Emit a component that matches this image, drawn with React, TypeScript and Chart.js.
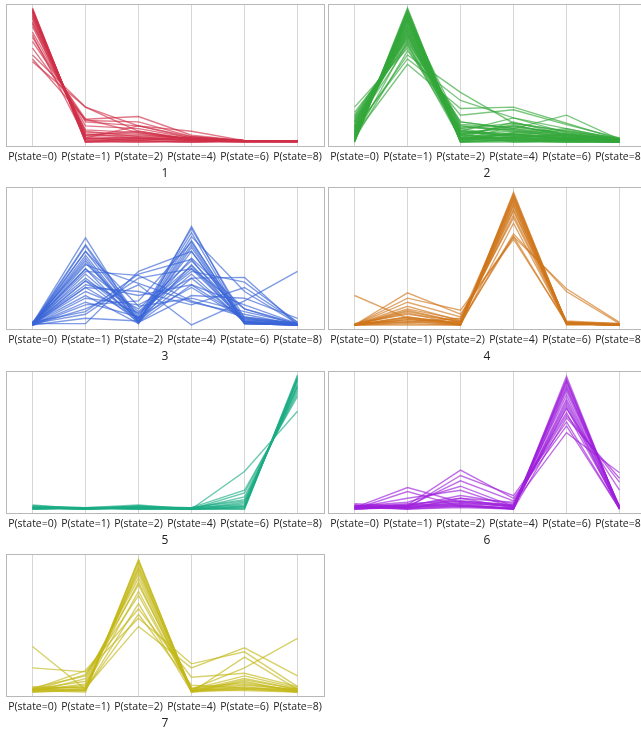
import React, { useEffect, useRef } from "react";
import { Chart, registerables } from "chart.js";

Chart.register(...registerables);

const categories = ["P(state=0)", "P(state=1)", "P(state=2)", "P(state=4)", "P(state=6)", "P(state=8)"];
const panelTitles = ["1", "2", "3", "4", "5", "6", "7"];
const panelColors = [
  "rgba(208,48,72,0.65)",
  "rgba(52,168,58,0.65)",
  "rgba(58,102,215,0.65)",
  "rgba(208,118,28,0.65)",
  "rgba(28,172,132,0.65)",
  "rgba(158,32,220,0.65)",
  "rgba(195,185,25,0.65)",
];

const cluster1Lines = [
  [1.0, 0.0, 0.0, 0.0, 0.01, 0.01],
  [0.99, 0.01, 0.01, 0.0, 0.01, 0.01],
  [0.98, 0.02, 0.02, 0.01, 0.01, 0.01],
  [0.97, 0.03, 0.02, 0.02, 0.01, 0.01],
  [0.96, 0.02, 0.04, 0.01, 0.01, 0.01],
  [0.95, 0.04, 0.03, 0.02, 0.01, 0.01],
  [0.94, 0.05, 0.05, 0.03, 0.01, 0.01],
  [0.92, 0.06, 0.03, 0.02, 0.01, 0.01],
  [0.9, 0.07, 0.06, 0.02, 0.01, 0.01],
  [0.89, 0.08, 0.04, 0.03, 0.01, 0.01],
  [0.86, 0.09, 0.07, 0.02, 0.01, 0.01],
  [0.82, 0.12, 0.1, 0.03, 0.01, 0.01],
  [0.8, 0.03, 0.12, 0.08, 0.01, 0.01],
  [0.75, 0.17, 0.19, 0.05, 0.01, 0.01],
  [0.7, 0.16, 0.15, 0.04, 0.01, 0.01],
  [0.65, 0.26, 0.12, 0.03, 0.01, 0.01],
  [0.62, 0.17, 0.07, 0.02, 0.01, 0.01],
  [0.6, 0.26, 0.08, 0.02, 0.01, 0.01],
  [0.99, 0.0, 0.01, 0.0, 0.0, 0.0],
  [0.98, 0.01, 0.0, 0.01, 0.0, 0.0],
  [0.97, 0.0, 0.03, 0.01, 0.0, 0.0],
  [0.93, 0.03, 0.01, 0.04, 0.01, 0.0],
  [0.88, 0.05, 0.08, 0.02, 0.01, 0.01],
  [0.78, 0.15, 0.12, 0.04, 0.01, 0.01],
];

const cluster2Lines = [
  [0.0, 1.0, 0.0, 0.0, 0.0, 0.0],
  [0.01, 0.99, 0.01, 0.01, 0.0, 0.0],
  [0.02, 0.97, 0.02, 0.01, 0.01, 0.0],
  [0.03, 0.95, 0.03, 0.02, 0.01, 0.01],
  [0.05, 0.93, 0.02, 0.03, 0.01, 0.01],
  [0.07, 0.9, 0.04, 0.02, 0.02, 0.01],
  [0.1, 0.88, 0.05, 0.05, 0.03, 0.01],
  [0.12, 0.85, 0.08, 0.06, 0.02, 0.01],
  [0.15, 0.83, 0.1, 0.04, 0.05, 0.01],
  [0.18, 0.8, 0.12, 0.08, 0.04, 0.02],
  [0.2, 0.78, 0.15, 0.1, 0.06, 0.02],
  [0.26, 0.7, 0.06, 0.12, 0.05, 0.02],
  [0.08, 0.65, 0.37, 0.14, 0.08, 0.03],
  [0.1, 0.62, 0.31, 0.18, 0.1, 0.02],
  [0.05, 0.58, 0.25, 0.26, 0.14, 0.02],
  [0.02, 0.68, 0.2, 0.24, 0.13, 0.03],
  [0.03, 0.75, 0.15, 0.1, 0.2, 0.02],
  [0.12, 0.72, 0.08, 0.18, 0.07, 0.01],
  [0.0, 0.96, 0.03, 0.06, 0.03, 0.01],
  [0.04, 0.92, 0.06, 0.08, 0.04, 0.02],
  [0.06, 0.86, 0.01, 0.12, 0.06, 0.01],
  [0.15, 0.76, 0.1, 0.14, 0.08, 0.02],
  [0.0, 0.98, 0.0, 0.02, 0.01, 0.0],
  [0.09, 0.8, 0.02, 0.07, 0.1, 0.02],
  [0.01, 0.97, 0.05, 0.03, 0.02, 0.01],
  [0.03, 0.91, 0.08, 0.05, 0.03, 0.01],
  [0.08, 0.87, 0.11, 0.09, 0.05, 0.02],
  [0.11, 0.82, 0.04, 0.03, 0.02, 0.0],
  [0.14, 0.79, 0.13, 0.11, 0.07, 0.02],
  [0.17, 0.74, 0.07, 0.05, 0.09, 0.01],
  [0.02, 0.94, 0.0, 0.01, 0.0, 0.0],
  [0.05, 0.89, 0.03, 0.15, 0.05, 0.02],
  [0.22, 0.73, 0.02, 0.04, 0.03, 0.01],
  [0.13, 0.84, 0.06, 0.0, 0.01, 0.0],
  [0.04, 0.96, 0.01, 0.04, 0.02, 0.0],
  [0.06, 0.92, 0.0, 0.07, 0.03, 0.01],
  [0.09, 0.9, 0.03, 0.01, 0.01, 0.0],
  [0.11, 0.86, 0.07, 0.1, 0.04, 0.01],
  [0.16, 0.81, 0.02, 0.06, 0.02, 0.01],
  [0.19, 0.77, 0.09, 0.03, 0.06, 0.02],
  [0.01, 0.93, 0.12, 0.09, 0.03, 0.01],
  [0.07, 0.83, 0.05, 0.13, 0.04, 0.01],
];

const cluster3Lines = [
  [0.01, 0.65, 0.02, 0.3, 0.05, 0.01],
  [0.0, 0.59, 0.03, 0.35, 0.03, 0.0],
  [0.01, 0.55, 0.05, 0.38, 0.02, 0.0],
  [0.0, 0.5, 0.02, 0.45, 0.04, 0.01],
  [0.02, 0.46, 0.08, 0.42, 0.03, 0.0],
  [0.01, 0.42, 0.1, 0.44, 0.02, 0.01],
  [0.0, 0.38, 0.04, 0.55, 0.02, 0.0],
  [0.01, 0.33, 0.02, 0.63, 0.01, 0.0],
  [0.0, 0.28, 0.05, 0.69, 0.01, 0.0],
  [0.01, 0.22, 0.01, 0.735, 0.02, 0.0],
  [0.0, 0.17, 0.06, 0.72, 0.05, 0.0],
  [0.0, 0.05, 0.03, 0.66, 0.25, 0.01],
  [0.01, 0.01, 0.4, 0.55, 0.02, 0.0],
  [0.02, 0.1, 0.38, 0.49, 0.01, 0.0],
  [0.01, 0.4, 0.37, 0.18, 0.06, 0.01],
  [0.0, 0.45, 0.31, 0.17, 0.08, 0.0],
  [0.01, 0.3, 0.22, 0.3, 0.15, 0.01],
  [0.0, 0.55, 0.14, 0.2, 0.1, 0.01],
  [0.01, 0.25, 0.09, 0.4, 0.32, 0.02],
  [0.0, 0.2, 0.15, 0.35, 0.355, 0.0],
  [0.02, 0.35, 0.05, 0.5, 0.12, 0.0],
  [0.01, 0.48, 0.02, 0.22, 0.2, 0.05],
  [0.0, 0.12, 0.3, 0.0, 0.18, 0.4],
  [0.01, 0.6, 0.06, 0.28, 0.04, 0.01],
  [0.0, 0.52, 0.03, 0.6, 0.01, 0.0],
  [0.01, 0.42, 0.01, 0.58, 0.01, 0.0],
  [0.0, 0.33, 0.12, 0.48, 0.06, 0.01],
  [0.01, 0.28, 0.25, 0.15, 0.28, 0.02],
  [0.0, 0.15, 0.18, 0.62, 0.03, 0.0],
  [0.01, 0.08, 0.35, 0.42, 0.12, 0.01],
];

const cluster4Lines = [
  [0.0, 0.01, 0.0, 0.98, 0.01, 0.0],
  [0.0, 0.02, 0.01, 0.96, 0.01, 0.0],
  [0.01, 0.03, 0.0, 0.95, 0.02, 0.01],
  [0.0, 0.05, 0.02, 0.93, 0.01, 0.0],
  [0.0, 0.06, 0.01, 0.92, 0.02, 0.0],
  [0.01, 0.08, 0.03, 0.9, 0.01, 0.01],
  [0.0, 0.1, 0.02, 0.88, 0.02, 0.0],
  [0.0, 0.12, 0.04, 0.86, 0.01, 0.0],
  [0.0, 0.14, 0.03, 0.82, 0.02, 0.01],
  [0.0, 0.17, 0.06, 0.8, 0.01, 0.0],
  [0.22, 0.05, 0.0, 0.76, 0.01, 0.0],
  [0.0, 0.24, 0.08, 0.66, 0.01, 0.0],
  [0.0, 0.2, 0.11, 0.64, 0.02, 0.0],
  [0.0, 0.04, 0.02, 0.66, 0.27, 0.02],
  [0.0, 0.06, 0.01, 0.68, 0.25, 0.01],
  [0.0, 0.0, 0.0, 0.99, 0.01, 0.0],
  [0.01, 0.02, 0.05, 0.94, 0.0, 0.0],
  [0.0, 0.09, 0.0, 0.9, 0.01, 0.0],
  [0.0, 0.04, 0.01, 0.97, 0.01, 0.0],
  [0.0, 0.11, 0.02, 0.85, 0.03, 0.01],
];

const cluster5Lines = [
  [0.01, 0.0, 0.0, 0.0, 0.0, 1.0],
  [0.02, 0.01, 0.01, 0.0, 0.01, 0.98],
  [0.01, 0.01, 0.02, 0.0, 0.02, 0.97],
  [0.03, 0.0, 0.01, 0.01, 0.03, 0.95],
  [0.0, 0.01, 0.03, 0.0, 0.04, 0.93],
  [0.01, 0.0, 0.01, 0.0, 0.05, 0.92],
  [0.02, 0.01, 0.0, 0.01, 0.06, 0.9],
  [0.01, 0.0, 0.02, 0.0, 0.09, 0.88],
  [0.0, 0.01, 0.01, 0.0, 0.12, 0.86],
  [0.01, 0.0, 0.01, 0.01, 0.14, 0.84],
  [0.0, 0.01, 0.0, 0.0, 0.28, 0.73],
  [0.02, 0.0, 0.02, 0.0, 0.02, 0.96],
  [0.01, 0.01, 0.01, 0.0, 0.0, 0.99],
  [0.0, 0.0, 0.02, 0.01, 0.07, 0.91],
  [0.01, 0.01, 0.0, 0.0, 0.01, 0.97],
];

const cluster6Lines = [
  [0.01, 0.0, 0.01, 0.0, 0.99, 0.0],
  [0.02, 0.01, 0.02, 0.01, 0.97, 0.0],
  [0.0, 0.02, 0.03, 0.0, 0.95, 0.01],
  [0.03, 0.01, 0.05, 0.02, 0.93, 0.0],
  [0.01, 0.03, 0.04, 0.0, 0.9, 0.02],
  [0.02, 0.0, 0.08, 0.01, 0.88, 0.01],
  [0.04, 0.02, 0.06, 0.03, 0.85, 0.0],
  [0.01, 0.16, 0.05, 0.02, 0.78, 0.0],
  [0.0, 0.13, 0.02, 0.01, 0.82, 0.02],
  [0.02, 0.03, 0.29, 0.08, 0.62, 0.0],
  [0.01, 0.01, 0.25, 0.1, 0.65, 0.0],
  [0.0, 0.02, 0.21, 0.06, 0.72, 0.01],
  [0.02, 0.05, 0.17, 0.02, 0.76, 0.0],
  [0.01, 0.08, 0.14, 0.01, 0.8, 0.0],
  [0.0, 0.02, 0.1, 0.04, 0.57, 0.27],
  [0.02, 0.01, 0.03, 0.0, 0.68, 0.23],
  [0.01, 0.03, 0.08, 0.05, 0.7, 0.2],
  [0.0, 0.01, 0.04, 0.02, 0.75, 0.14],
  [0.03, 0.0, 0.02, 0.0, 0.96, 0.0],
  [0.01, 0.04, 0.06, 0.03, 0.91, 0.02],
];

const cluster7Lines = [
  [0.01, 0.0, 0.99, 0.0, 0.02, 0.0],
  [0.02, 0.01, 0.97, 0.01, 0.03, 0.01],
  [0.0, 0.02, 0.95, 0.0, 0.04, 0.0],
  [0.03, 0.03, 0.93, 0.01, 0.05, 0.02],
  [0.01, 0.05, 0.9, 0.02, 0.06, 0.01],
  [0.02, 0.08, 0.88, 0.0, 0.08, 0.0],
  [0.0, 0.1, 0.85, 0.01, 0.1, 0.02],
  [0.03, 0.12, 0.8, 0.03, 0.07, 0.01],
  [0.01, 0.13, 0.72, 0.02, 0.12, 0.03],
  [0.02, 0.16, 0.62, 0.11, 0.14, 0.04],
  [0.34, 0.02, 0.58, 0.05, 0.03, 0.02],
  [0.18, 0.15, 0.55, 0.21, 0.3, 0.04],
  [0.04, 0.03, 0.49, 0.18, 0.33, 0.12],
  [0.01, 0.02, 0.66, 0.0, 0.26, 0.02],
  [0.02, 0.04, 0.75, 0.02, 0.18, 0.4],
  [0.0, 0.01, 0.98, 0.01, 0.01, 0.0],
  [0.01, 0.06, 0.82, 0.0, 0.09, 0.02],
  [0.02, 0.01, 0.92, 0.02, 0.02, 0.01],
];

const allClusters = [cluster1Lines, cluster2Lines, cluster3Lines, cluster4Lines, cluster5Lines, cluster6Lines, cluster7Lines];

const framePlugin = {
  id: "frame",
  afterDraw(chart: any) {
    const { ctx, chartArea } = chart;
    ctx.save();
    ctx.strokeStyle = "#b8b8b8";
    ctx.lineWidth = 1;
    ctx.strokeRect(
      Math.round(chartArea.left) + 0.5,
      Math.round(chartArea.top) + 0.5,
      Math.round(chartArea.right - chartArea.left),
      Math.round(chartArea.bottom - chartArea.top)
    );
    ctx.restore();
  },
};

function Panel({ index }: { index: number }) {
  const ref = useRef<HTMLCanvasElement>(null);
  useEffect(() => {
    if (!ref.current) return;
    const lines = allClusters[index];
    const chart = new Chart(ref.current, {
      type: "line",
      data: {
        labels: categories,
        datasets: lines.map((row) => ({
          data: row,
          borderColor: panelColors[index],
          borderWidth: 1.4,
          pointRadius: 0,
          tension: 0,
          fill: false,
        })),
      },
      options: {
        responsive: false,
        animation: false,
        events: [],
        layout: { padding: { left: 6, right: 4, top: 4, bottom: 0 } },
        plugins: { legend: { display: false }, tooltip: { enabled: false } },
        scales: {
          x: {
            offset: true,
            grid: { offset: false, color: "#d6d6d6", drawTicks: false },
            border: { display: false },
            ticks: {
              autoSkip: false,
              maxRotation: 0,
              padding: 5,
              color: "#222",
              font: { family: "'Open Sans', sans-serif", size: 10.5 },
            },
            title: {
              display: true,
              text: panelTitles[index],
              color: "#222",
              font: { family: "'Open Sans', sans-serif", size: 12 },
              padding: { top: -2.2, bottom: 3.2 },
            },
          },
          y: { display: false, min: -0.03, max: 1.03 },
        },
      },
      plugins: [framePlugin],
    });
    return () => chart.destroy();
  }, [index]);
  const col = index % 2;
  const row = Math.floor(index / 2);
  return (
    <div style={{ position: "absolute", left: col * 322, top: Math.round(row * 183.3), width: 328, height: 184 }}>
      <canvas ref={ref} width={328} height={184} style={{ display: "block" }} />
    </div>
  );
}

export default function App() {
  return (
    <div style={{ position: "fixed", left: 0, top: 0, width: 641, height: 730, overflow: "hidden", background: "#fff" }}>
      {panelTitles.map((_, i) => (
        <Panel key={i} index={i} />
      ))}
    </div>
  );
}
